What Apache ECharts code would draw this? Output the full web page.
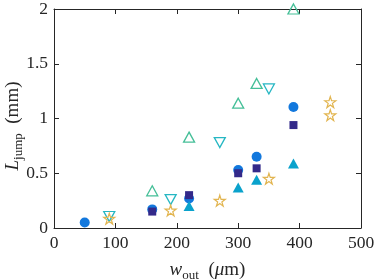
<!DOCTYPE html>
<html>
<head>
<meta charset="utf-8">
<script src="https://cdn.jsdelivr.net/npm/echarts@6/dist/echarts.min.js"></script>
<style>html,body{margin:0;padding:0;background:#fff;}#c{width:374px;height:280px;}</style>
</head>
<body>
<div id="c"></div>
<script>
// Data (x: w_out in µm, y: L_jump in mm)
var xTicks = [0, 100, 200, 300, 400, 500];
var yTicks = [0, 0.5, 1, 1.5, 2];
var circleFilled = [[50,0.05],[160,0.17],[220,0.27],[300,0.53],[330,0.65],[390,1.105]];
var squareFilled = [[160,0.15],[220,0.30],[300,0.50],[330,0.545],[390,0.94]];
var triUpFilled = [[220,0.20],[300,0.37],[330,0.44],[390,0.59]];
var triUpOpen = [[160,0.34],[220,0.83],[300,1.14],[330,1.32],[390,2.0]];
var triDownOpen = [[90,0.105],[190,0.26],[270,0.78],[350,1.27]];
var starOpen = [[90,0.085],[190,0.16],[270,0.25],[350,0.45],[450,1.15],[450,1.03]];

var FONT = 'Liberation Serif';
var AX = '#262626';
var STAR = 'path://M50,0 L61.2,34.5 L97.6,34.5 L68.2,55.9 L79.4,90.5 L50,69.1 L20.6,90.5 L31.8,55.9 L2.4,34.5 L38.8,34.5 Z';

var chart = echarts.init(document.getElementById('c'), null, {renderer:'canvas'});
function mainX(pos, show) {
  return {
    type:'value', min:xTicks[0], max:xTicks[xTicks.length-1], interval:xTicks[1]-xTicks[0], position:pos,
    axisLine:{show:true, onZero:false, lineStyle:{color:AX, width:1}},
    axisTick:{show:true, inside:true, length:5, lineStyle:{color:AX, width:1}},
    axisLabel:{show:show, color:'#262626', fontFamily:FONT, fontSize:17.5, margin:6},
    splitLine:{show:false}
  };
}
function mainY(pos, show) {
  return {
    type:'value', min:yTicks[0], max:yTicks[yTicks.length-1], interval:yTicks[1]-yTicks[0], position:pos,
    axisLine:{show:true, onZero:false, lineStyle:{color:AX, width:1}},
    axisTick:{show:true, inside:true, length:5, lineStyle:{color:AX, width:1}},
    axisLabel:{show:show, color:'#262626', fontFamily:FONT, fontSize:17.5, margin:6},
    splitLine:{show:false}
  };
}
var richStyles = {
  i:{fontFamily:FONT, fontStyle:'italic', fontSize:19, lineHeight:24, verticalAlign:'middle', fill:'#262626', color:'#262626'},
  n:{fontFamily:FONT, fontSize:19, lineHeight:24, verticalAlign:'middle', fill:'#262626', color:'#262626'},
  s:{fontFamily:FONT, fontSize:13, lineHeight:13, verticalAlign:'bottom', fill:'#262626', color:'#262626'}
};
var xb = mainX('bottom', true);
xb.name = '{i|w}{s|out}{n|  (}{i|μ}{n|m)}';
xb.nameLocation = 'middle';
xb.nameGap = 30;
xb.nameTextStyle = {color:'#262626', fontFamily:FONT, rich:richStyles};

chart.setOption({
  animation:false,
  backgroundColor:'#ffffff',
  grid:{left:54, right:13, top:9, bottom:52, containLabel:false, outerBoundsMode:'none'},
  xAxis:[xb, mainX('top', false)],
  yAxis:[mainY('left', true), mainY('right', false)],
  graphic:[{
    type:'text', x:13, y:126, rotation:Math.PI/2,
    style:{text:'{i|L}{s|jump}{n|  (mm)}', rich:richStyles, align:'center', verticalAlign:'middle',
           fontFamily:FONT, fill:'#262626'}
  }],
  series:[
    {type:'scatter', data:circleFilled, symbol:'circle', symbolSize:10,
     itemStyle:{color:'#1278dd', opacity:1}},
    {type:'scatter', data:squareFilled, symbol:'rect', symbolSize:8,
     itemStyle:{color:'#33298a', opacity:1}},
    {type:'scatter', data:triUpFilled, symbol:'triangle', symbolSize:[11,10],
     itemStyle:{color:'#0aa2cc', opacity:1}},
    {type:'scatter', data:triUpOpen, symbol:'triangle', symbolSize:[11,10],
     itemStyle:{color:'rgba(255,255,255,0)', borderColor:'#45bf98', borderWidth:1.3, opacity:1}},
    {type:'scatter', data:triDownOpen, symbol:'triangle', symbolRotate:180, symbolSize:[11,10],
     itemStyle:{color:'rgba(255,255,255,0)', borderColor:'#26b7c3', borderWidth:1.3, opacity:1}},
    {type:'scatter', data:starOpen, symbol:STAR, symbolSize:11,
     itemStyle:{color:'rgba(255,255,255,0)', borderColor:'#e2b550', borderWidth:1.2, opacity:1}}
  ]
});
</script>
</body>
</html>
